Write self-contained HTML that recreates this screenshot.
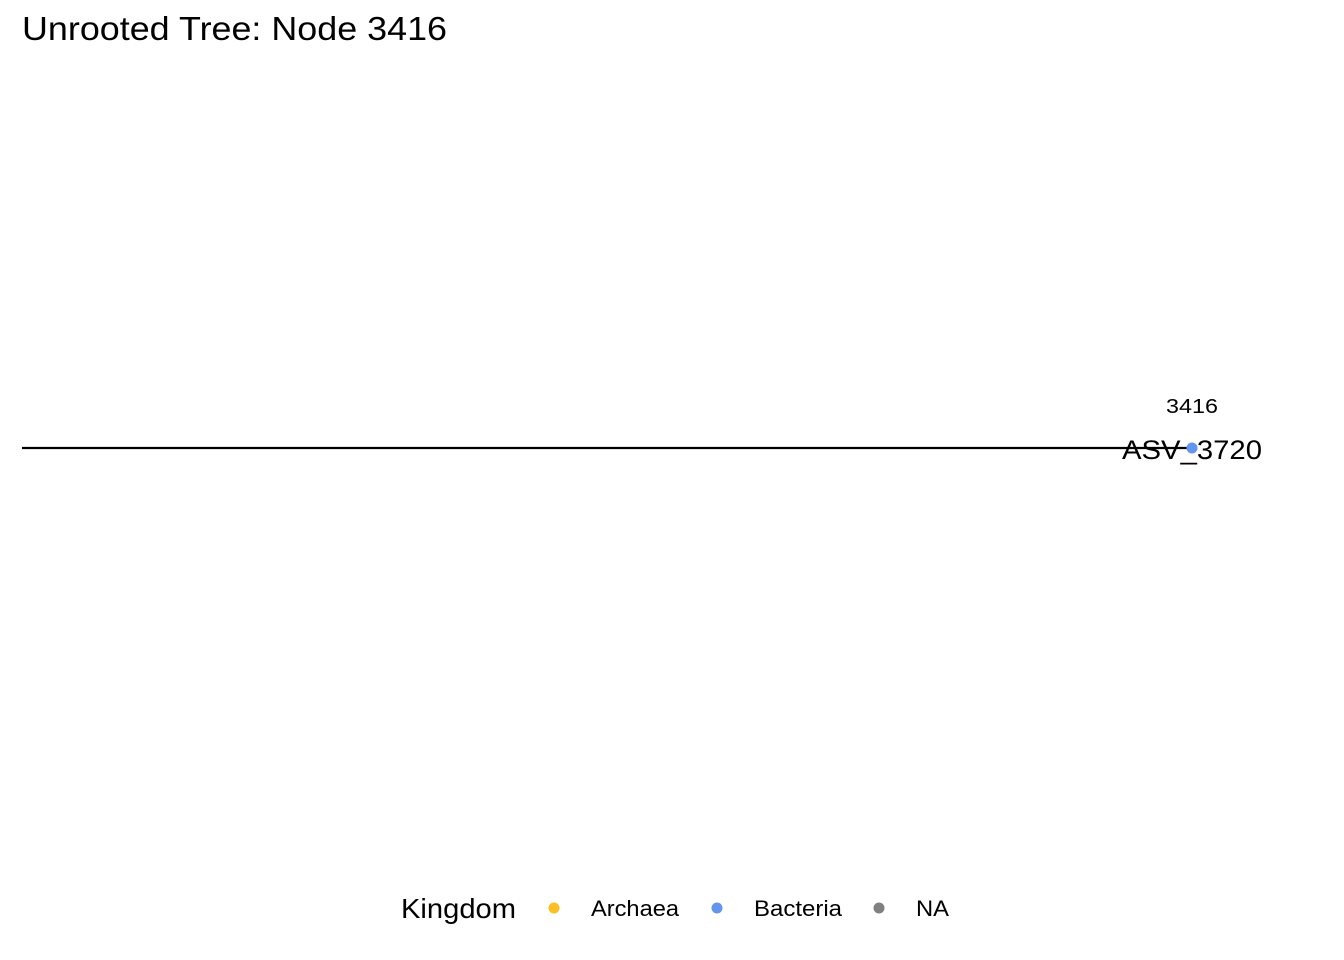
<!DOCTYPE html>
<html><head><meta charset="utf-8"><style>
html,body{margin:0;padding:0;background:#fff;}
svg{display:block;font-family:"Liberation Sans",Arial,sans-serif;}
</style></head><body>
<svg id="chart" width="1344" height="960">
<text x="22" y="40" font-size="33" textLength="425" lengthAdjust="spacingAndGlyphs" fill="#000">Unrooted Tree: Node 3416</text>
<g id="tree"></g>
<g>
<text x="401" y="918" font-size="28" textLength="115" lengthAdjust="spacingAndGlyphs">Kingdom</text>
<circle cx="554" cy="908" r="5.5" fill="#FBBF24"/>
<text x="591" y="916" font-size="22" textLength="88" lengthAdjust="spacingAndGlyphs">Archaea</text>
<circle cx="717" cy="908" r="5.5" fill="#6495ED"/>
<text x="754" y="916" font-size="22" textLength="88" lengthAdjust="spacingAndGlyphs">Bacteria</text>
<circle cx="879" cy="908" r="5.5" fill="#808080"/>
<text x="916" y="916" font-size="22" textLength="33" lengthAdjust="spacingAndGlyphs">NA</text>
</g>
</svg>
<script>
const tipLabels = ["ASV_3720"];
const tipX = [1.0];
const rootX = [0.0];
const nodeLabels = ["3416"];
const tipKingdom = ["Bacteria"];
const colors = {Archaea:"#FBBF24", Bacteria:"#6495ED", NA:"#808080"};
const ns = "http://www.w3.org/2000/svg";
const xScale = v => 22 + v * (1192 - 22);
const yMid = 448;
const g = document.getElementById("tree");
tipLabels.forEach((lab, i) => {
  const line = document.createElementNS(ns, "line");
  line.setAttribute("x1", xScale(rootX[i])); line.setAttribute("x2", xScale(tipX[i]));
  line.setAttribute("y1", yMid); line.setAttribute("y2", yMid);
  line.setAttribute("stroke", "#000"); line.setAttribute("stroke-width", "2.2");
  
  
  g.appendChild(line);
  const t = document.createElementNS(ns, "text");
  t.setAttribute("x", xScale(tipX[i])); t.setAttribute("y", yMid + 11);
  t.setAttribute("text-anchor", "middle"); t.setAttribute("font-size", "27");
  t.setAttribute("textLength", "140"); t.setAttribute("lengthAdjust", "spacingAndGlyphs");
  t.textContent = lab;
  
  
  g.appendChild(t);
  const c = document.createElementNS(ns, "circle");
  c.setAttribute("cx", xScale(tipX[i])); c.setAttribute("cy", yMid); c.setAttribute("r", "5.5");
  c.setAttribute("fill", colors[tipKingdom[i]]);
  
  
  g.appendChild(c);
  const n = document.createElementNS(ns, "text");
  n.setAttribute("x", xScale(tipX[i])); n.setAttribute("y", yMid - 35);
  n.setAttribute("text-anchor", "middle"); n.setAttribute("font-size", "20");
  n.setAttribute("textLength", "52"); n.setAttribute("lengthAdjust", "spacingAndGlyphs");
  n.textContent = nodeLabels[i];
  
  
  g.appendChild(n);
});
</script>
</body></html>
